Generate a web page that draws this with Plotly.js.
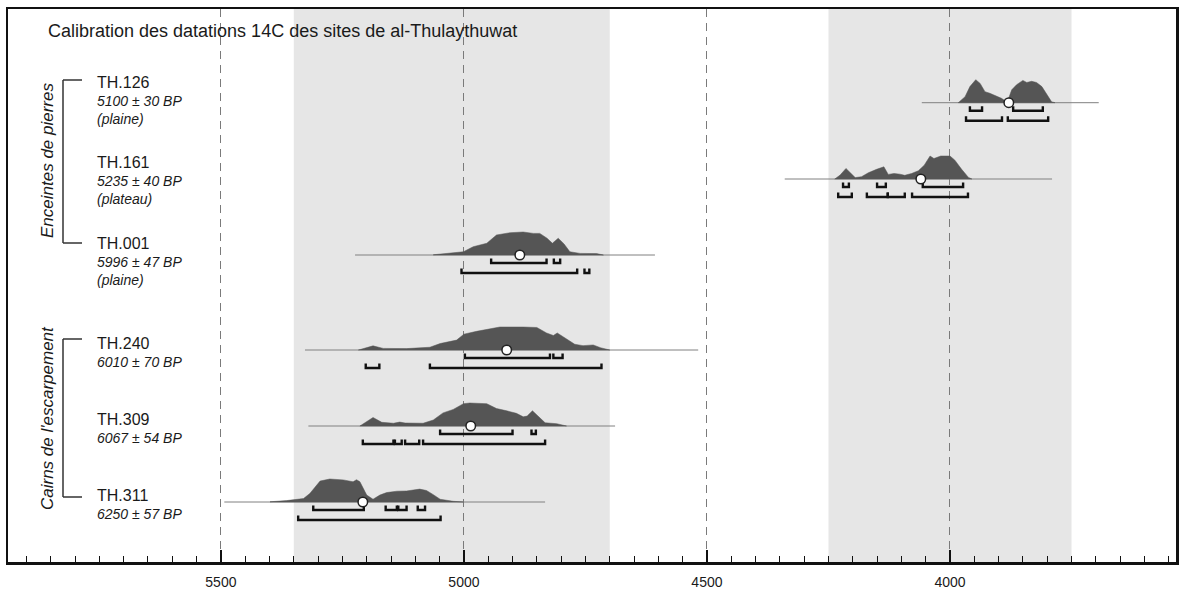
<!DOCTYPE html>
<html>
<head>
<meta charset="utf-8">
<script src="https://cdn.plot.ly/plotly-3.0.1.min.js"></script>
<style>
  html, body { margin: 0; padding: 0; background: #fff; }
  #chart { width: 1179px; height: 592px; }
</style>
</head>
<body>
<div id="chart"></div>
<script>
// ---------------- DATA ----------------
const chartTitle = 'Calibration des datations 14C des sites de al-Thulaythuwat';
const sites = ['TH.126', 'TH.161', 'TH.001', 'TH.240', 'TH.309', 'TH.311'];
const bpDates = ['5100 ± 30 BP', '5235 ± 40 BP', '5996 ± 47 BP', '6010 ± 70 BP', '6067 ± 54 BP', '6250 ± 57 BP'];
const contexts = ['(plaine)', '(plateau)', '(plaine)', '', '', ''];
const groupNames = ['Enceintes de pierres', "Cairns de l'escarpement"];

// calibrated probability curves (year BC, relative probability)
const th126Years = [3983, 3969, 3959, 3947, 3938, 3928, 3918, 3904, 3894, 3885, 3880, 3873, 3863, 3850, 3842, 3832, 3822, 3811, 3801, 3791, 3784];
const th126Prob  = [0, 0.26, 0.70, 1.00, 0.84, 0.48, 0.41, 0.30, 0.19, 0.06, 0.15, 0.56, 0.78, 0.97, 0.88, 0.93, 0.88, 0.70, 0.34, 0.04, 0];

const th161Years = [4237, 4226, 4214, 4206, 4195, 4182, 4168, 4151, 4136, 4127, 4115, 4103, 4093, 4079, 4065, 4053, 4041, 4033, 4019, 4000, 3990, 3976, 3962, 3955];
const th161Prob  = [0, 0.17, 0.46, 0.31, 0.06, 0.10, 0.27, 0.42, 0.53, 0.20, 0.24, 0.21, 0.16, 0.24, 0.36, 0.60, 1.00, 0.89, 1.00, 1.00, 0.82, 0.42, 0.07, 0];

const th001Years = [5063, 5029, 5001, 4981, 4953, 4933, 4905, 4878, 4857, 4844, 4829, 4818, 4806, 4794, 4782, 4761, 4727, 4713];
const th001Prob  = [0.01, 0.07, 0.14, 0.36, 0.51, 0.87, 0.97, 1.00, 0.94, 0.94, 0.73, 0.51, 0.73, 0.48, 0.14, 0.07, 0.06, 0];

const th240Years = [5217, 5187, 5166, 5118, 5070, 5049, 5015, 5000, 4974, 4947, 4926, 4878, 4850, 4830, 4816, 4808, 4789, 4772, 4755, 4734, 4719, 4700];
const th240Prob  = [0, 0.18, 0.07, 0.06, 0.12, 0.28, 0.43, 0.69, 0.81, 0.93, 1.00, 1.00, 0.98, 0.74, 0.63, 0.74, 0.48, 0.25, 0.19, 0.22, 0.10, 0];

const th309Years = [5214, 5187, 5169, 5145, 5132, 5121, 5084, 5063, 5043, 5022, 5001, 4988, 4953, 4933, 4912, 4892, 4878, 4870, 4859, 4847, 4833, 4809, 4789];
const th309Prob  = [0, 0.37, 0.16, 0.12, 0.17, 0.13, 0.12, 0.26, 0.57, 0.72, 0.97, 1.00, 0.97, 0.76, 0.66, 0.55, 0.40, 0.43, 0.66, 0.40, 0.14, 0.10, 0];

const th311Years = [5399, 5365, 5330, 5317, 5296, 5276, 5248, 5228, 5221, 5214, 5200, 5187, 5173, 5159, 5138, 5118, 5091, 5077, 5063, 5049, 5022, 5001];
const th311Prob  = [0.01, 0.06, 0.15, 0.37, 0.91, 1.00, 0.96, 0.88, 0.97, 0.88, 0.30, 0.12, 0.30, 0.41, 0.47, 0.48, 0.56, 0.50, 0.32, 0.12, 0.03, 0];

// extent of the calibration curve drawn as a thin line (start, end)
const curveStart = [4058, 4340, 5224, 5327, 5320, 5493];
const curveEnd   = [3694, 3790, 4607, 4518, 4689, 4833];
// median
const medians = [3879, 4060, 4885, 4912, 4986, 5208];
// 68.2 % ranges
const range68 = [
  [[3959, 3934], [3870, 3809]],
  [[4220, 4208], [4150, 4132], [4056, 3973]],
  [[4944, 4830], [4815, 4802]],
  [[4998, 4823], [4816, 4797]],
  [[5049, 4900], [4861, 4852]],
  [[5310, 5206], [5161, 5138], [5135, 5118], [5095, 5080]]
];
// 95.4 % ranges
const range95 = [
  [[3967, 3893], [3881, 3798]],
  [[4230, 4202], [4171, 4128], [4128, 4093], [4078, 3963]],
  [[5005, 4767], [4752, 4742]],
  [[5202, 5174], [5070, 4717]],
  [[5208, 5145], [5142, 5128], [5121, 5092], [5084, 4833]],
  [[5341, 5048]]
];
// shaded periods
const bandStart = [5350, 4250];
const bandEnd   = [4700, 3750];
const tickVals = [5500, 5000, 4500, 4000];
const tickText = ['5500', '5000', '4500', '4000'];

const curveYears = [th126Years, th161Years, th001Years, th240Years, th309Years, th311Years];
const curveProb  = [th126Prob, th161Prob, th001Prob, th240Prob, th309Prob, th311Prob];

// ---------------- LAYOUT CONSTANTS ----------------
const W = 1179, H = 592;
const M = { l: 8, r: 3, t: 9, b: 30 };
const rowBase = [102.7, 179, 255, 350, 426, 502];   // y pixel of curve baselines
const labelY = [82, 162, 243, 343, 419, 495];
const peakH = 23;        // pixel height of a probability of 1
const off68 = 8, off95 = 18, tickUp = 4.5;
const FONT = 'Liberation Sans, Arial, Helvetica, sans-serif';
const px2paper = px => (px - M.l) / (W - M.l - M.r);

const traces = [];
for (let i = 0; i < sites.length; i++) {
  const b = rowBase[i];
  // thin baseline
  traces.push({
    type: 'scatter', mode: 'lines', x: [curveStart[i], curveEnd[i]], y: [b, b],
    line: { color: '#808080', width: 1 }, hoverinfo: 'skip', showlegend: false
  });
  // probability polygon
  const xs = curveYears[i].slice();
  const ys = curveProb[i].map(p => b - p * peakH);
  xs.push(curveYears[i][curveYears[i].length - 1]); ys.push(b);
  xs.push(curveYears[i][0]); ys.push(b);
  traces.push({
    type: 'scatter', mode: 'lines', x: xs, y: ys, fill: 'toself',
    fillcolor: '#555555', line: { color: '#555555', width: 0.5 },
    hoverinfo: 'skip', showlegend: false
  });
  // range brackets
  [[range68[i], off68], [range95[i], off95]].forEach(([ranges, off]) => {
    const bx = [], by = [];
    const yy = b + off;
    ranges.forEach(r => {
      bx.push(r[0], r[0], r[1], r[1], null);
      by.push(yy - tickUp, yy, yy, yy - tickUp, null);
    });
    traces.push({
      type: 'scatter', mode: 'lines', x: bx, y: by,
      line: { color: '#111111', width: 2.4 }, connectgaps: false,
      hoverinfo: 'skip', showlegend: false
    });
  });
  // median
  traces.push({
    type: 'scatter', mode: 'markers', x: [medians[i]], y: [b],
    marker: { size: 9.5, color: '#ffffff', line: { color: '#222222', width: 1.5 } },
    hoverinfo: 'skip', showlegend: false
  });
}

const shapes = [];
for (let k = 0; k < bandStart.length; k++) {
  shapes.push({
    type: 'rect', xref: 'x', yref: 'paper', x0: bandStart[k], x1: bandEnd[k], y0: 0, y1: 1,
    fillcolor: '#e6e6e6', line: { width: 0 }, layer: 'below'
  });
}
// group brackets
const groupSpans = [[80, 243], [339, 497]];
const groupCenter = [161, 418];
groupSpans.forEach(s => {
  const xa = px2paper(63), xb = px2paper(82);
  const ln = { color: '#333333', width: 1.5 };
  shapes.push({ type: 'line', xref: 'paper', yref: 'y', x0: xa, x1: xa, y0: s[0], y1: s[1], line: ln });
  shapes.push({ type: 'line', xref: 'paper', yref: 'y', x0: xa, x1: xb, y0: s[0], y1: s[0], line: ln });
  shapes.push({ type: 'line', xref: 'paper', yref: 'y', x0: xa, x1: xb, y0: s[1], y1: s[1], line: ln });
});

const annotations = [];
annotations.push({
  text: chartTitle, xref: 'paper', yref: 'y', x: px2paper(46), y: 31,
  xanchor: 'left', yanchor: 'middle', showarrow: false,
  font: { family: FONT, size: 18, color: '#1a1a1a' }
});
for (let i = 0; i < sites.length; i++) {
  const xp = px2paper(95);
  annotations.push({
    text: sites[i], xref: 'paper', yref: 'y', x: xp, y: labelY[i],
    xanchor: 'left', yanchor: 'middle', showarrow: false,
    font: { family: FONT, size: 16, color: '#1a1a1a' }
  });
  annotations.push({
    text: '<i>' + bpDates[i] + '</i>', xref: 'paper', yref: 'y', x: xp, y: labelY[i] + 19,
    xanchor: 'left', yanchor: 'middle', showarrow: false,
    font: { family: FONT, size: 14, color: '#1a1a1a' }
  });
  if (contexts[i]) {
    annotations.push({
      text: '<i>' + contexts[i] + '</i>', xref: 'paper', yref: 'y', x: xp, y: labelY[i] + 37,
      xanchor: 'left', yanchor: 'middle', showarrow: false,
      font: { family: FONT, size: 14, color: '#1a1a1a' }
    });
  }
}
groupNames.forEach((g, k) => {
  annotations.push({
    text: '<i>' + g + '</i>', xref: 'paper', yref: 'y', x: px2paper(47), y: groupCenter[k],
    xanchor: 'center', yanchor: 'middle', textangle: -90, showarrow: false,
    font: { family: FONT, size: 17, color: '#1a1a1a' }
  });
});

const layout = {
  width: W, height: H,
  margin: M,
  paper_bgcolor: '#ffffff', plot_bgcolor: '#ffffff',
  showlegend: false,
  xaxis: {
    range: [5938, 3535], autorange: false,
    tickmode: 'array', tickvals: tickVals, ticktext: tickText,
    ticks: 'inside', ticklen: 12, tickwidth: 2, tickcolor: '#111111',
    minor: { dtick: 50, tick0: 0, ticks: 'inside', ticklen: 6, tickwidth: 1, tickcolor: '#111111', showgrid: false },
    showgrid: true, gridcolor: '#7a7a7a', gridwidth: 1, griddash: '8px,6px',
    showline: true, linecolor: '#111111', linewidth: 2.5, mirror: true,
    zeroline: false, ticklabelstandoff: 6,
    tickfont: { family: FONT, size: 14, color: '#1a1a1a' }
  },
  yaxis: {
    range: [562, 9], autorange: false,
    showgrid: false, zeroline: false, showticklabels: false, ticks: '',
    showline: true, linecolor: '#111111', linewidth: 2.5, mirror: true
  },
  shapes: shapes,
  annotations: annotations
};

Plotly.newPlot('chart', traces, layout, { staticPlot: true, displayModeBar: false });
</script>
</body>
</html>
